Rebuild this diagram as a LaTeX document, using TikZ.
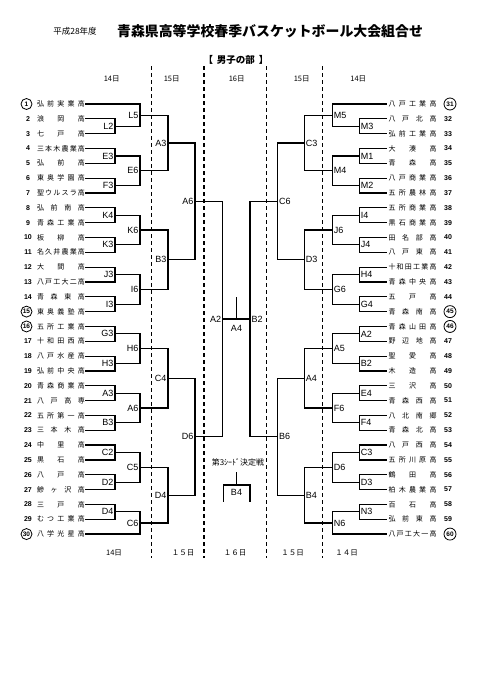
\documentclass[tikz,border=0pt]{standalone}
\usepackage{fontspec}
\setmainfont{Liberation Sans}
\newfontfamily\jp{Noto Sans CJK JP}
\usetikzlibrary{calc}
\def\spreadloop#1{\ifx#1\relax\else#1\hfill\expandafter\spreadloop\fi}
\newcommand\spreadname[1]{\makebox[48pt][s]{\expandafter\spreadloop#1\relax\unskip}}
\newcommand\bm[6]{%
  \path let \p1=(#3), \p2=(#4) in coordinate (#1) at ({#2pt},{0.5*\y1+0.5*\y2});
  \draw[br] (#3) -- (#3 -| #1) -- (#4 -| #1) -- (#4);
  \node[lab,anchor=#6] (#1lab) at (#1) {#5};}
\tikzset{
  br/.style={line width=1.2pt,line cap=rect},
  lab/.style={font=\fontsize{9}{9}\selectfont,inner sep=1.3pt},
  team/.style={font=\jp\fontsize{7}{7}\selectfont,inner sep=0pt},
  num/.style={font=\fontsize{7}{7}\selectfont\bfseries,inner sep=0pt},
  dayl/.style={font=\jp\fontsize{7.5}{7.5}\selectfont,inner sep=0pt},
  daysep/.style={line width=1.3pt,dash pattern=on 4pt off 3pt},
}
\begin{document}
\begin{tikzpicture}[x=1pt,y=-1pt]
\useasboundingbox (0,0) rectangle (481,680);
\fill[white] (0,0) rectangle (481,680);
% titles
\node[font=\jp\fontsize{8.5}{8.5}\selectfont,inner sep=0pt] (yr) at (75,31) {平成28年度};
\node[font=\jp\bfseries\fontsize{13.9}{14}\selectfont,inner sep=0pt] (title) at (270,31) {青森県高等学校春季バスケットボール大会組合せ};
\node[font=\jp\bfseries\fontsize{9.5}{9.5}\selectfont,inner sep=0pt] (div) at (236,60) {【\, 男子の部 \,】};
% day labels
\node[dayl] (d1) at (111.7,79.3) {14日};
\node[dayl] (d2) at (171.7,79.3) {15日};
\node[dayl] (d3) at (236.7,79.3) {16日};
\node[dayl] (d4) at (301.7,79.3) {15日};
\node[dayl] (d5) at (358.3,79.3) {14日};
\node[dayl] (e1) at (114,552.7) {14日};
\node[dayl] (e2) at (183,552.7) {１５日};
\node[dayl] (e3) at (235,552.7) {１６日};
\node[dayl] (e4) at (292.5,552.7) {１５日};
\node[dayl] (e5) at (346.7,552.7) {１４日};
% dashed day separators
\foreach \xx/\k in {151.7/a,204/b,266.7/c,322.3/d}{
  \coordinate (sep\k t) at (\xx,66);
  \coordinate (sep\k b) at (\xx,558);
  \draw[daysep] (sep\k t) -- (sep\k b);
}
% left teams
\foreach \n/\nm/\c in {1/弘前実業高/1,2/浪岡高/0,3/七戸高/0,4/三本木農業高/0,5/弘前高/0,6/東奥学園高/0,7/聖ウルスラ高/0,8/弘前南高/0,9/青森工業高/0,10/板柳高/0,11/名久井農業高/0,12/大間高/0,13/八戸工大二高/0,14/青森東高/0,15/東奥義塾高/1,16/五所工業高/1,17/十和田西高/0,18/八戸水産高/0,19/弘前中央高/0,20/青森商業高/0,21/八戸高専/0,22/五所第一高/0,23/三本木高/0,24/中里高/0,25/黒石高/0,26/八戸高/0,27/鰺ヶ沢高/0,28/三戸高/0,29/むつ工業高/0,30/八学光星高/1}{
  \pgfmathsetmacro\yy{104+(\n-1)*14.83}
  \coordinate (T\n) at (86,\yy);
  \node[team] (N\n) at (61,\yy) {\spreadname{\nm}};
  \ifnum\c=1
    \node[num,font=\fontsize{6.5}{6.5}\selectfont\bfseries,draw,circle,line width=0.8pt,minimum size=11pt] (C\n) at (26.5,\yy) {\n};
  \else
    \node[num] (C\n) at (28,\yy) {\n};
  \fi
}
% right teams
\foreach \n/\nm/\c in {31/八戸工業高/1,32/八戸北高/0,33/弘前工業高/0,34/大湊高/0,35/青森高/0,36/八戸商業高/0,37/五所農林高/0,38/五所商業高/0,39/黒石商業高/0,40/田名部高/0,41/八戸東高/0,42/十和田工業高/0,43/青森中央高/0,44/五戸高/0,45/青森南高/1,46/青森山田高/1,47/野辺地高/0,48/聖愛高/0,49/木造高/0,50/三沢高/0,51/青森西高/0,52/八北南郷/0,53/青森北高/0,54/八戸西高/0,55/五所川原高/0,56/鶴田高/0,57/柏木農業高/0,58/百石高/0,59/弘前東高/0,60/八戸工大一高/1}{
  \pgfmathsetmacro\yy{104+(\n-31)*14.83}
  \coordinate (T\n) at (386.7,\yy);
  \node[team] (N\n) at (412.5,\yy) {\spreadname{\nm}};
  \ifnum\c=1
    \node[num,font=\fontsize{6.5}{6.5}\selectfont\bfseries,draw,circle,line width=0.8pt,minimum size=12pt] (C\n) at (450,\yy) {\n};
  \else
    \node[num] (C\n) at (448,\yy) {\n};
  \fi
}
% left bracket
\def\ca{115}\def\cb{140}\def\cc{168}\def\cd{195}\def\ce{222.7}
\bm{lL2}{\ca}{T2}{T3}{L2}{east}
\bm{lL5}{\cb}{T1}{lL2}{L5}{east}
\bm{lE3}{\ca}{T4}{T5}{E3}{east}
\bm{lF3}{\ca}{T6}{T7}{F3}{east}
\bm{lE6}{\cb}{lE3}{lF3}{E6}{east}
\bm{lA3}{\cc}{lL5}{lE6}{A3}{east}
\bm{lK4}{\ca}{T8}{T9}{K4}{east}
\bm{lK3}{\ca}{T10}{T11}{K3}{east}
\bm{lK6}{\cb}{lK4}{lK3}{K6}{east}
\bm{lJ3}{\ca}{T12}{T13}{J3}{east}
\bm{lI3}{\ca}{T14}{T15}{I3}{east}
\bm{lI6}{\cb}{lJ3}{lI3}{I6}{east}
\bm{lB3}{\cc}{lK6}{lI6}{B3}{east}
\bm{lA6}{\cd}{lA3}{lB3}{A6}{east}
\bm{lG3}{\ca}{T16}{T17}{G3}{east}
\bm{lH3}{\ca}{T18}{T19}{H3}{east}
\bm{lH6}{\cb}{lG3}{lH3}{H6}{east}
\bm{lAthree}{\ca}{T20}{T21}{A3}{east}
\bm{lBthree}{\ca}{T22}{T23}{B3}{east}
\bm{lAsix}{\cb}{lAthree}{lBthree}{A6}{east}
\bm{lC4}{\cc}{lH6}{lAsix}{C4}{east}
\bm{lC2}{\ca}{T24}{T25}{C2}{east}
\bm{lD2}{\ca}{T26}{T27}{D2}{east}
\bm{lC5}{\cb}{lC2}{lD2}{C5}{east}
\bm{lDfour}{\ca}{T28}{T29}{D4}{east}
\bm{lC6}{\cb}{lDfour}{T30}{C6}{east}
\bm{lD4}{\cc}{lC5}{lC6}{D4}{east}
\bm{lD6}{\cd}{lC4}{lD4}{D6}{east}
\bm{lA2}{\ce}{lA6}{lD6}{A2}{east}
% right bracket
\def\ra{359.3}\def\rb{332.3}\def\rc{304.3}\def\rd{277.7}\def\re{250}
\bm{rM3}{\ra}{T32}{T33}{M3}{west}
\bm{rM5}{\rb}{T31}{rM3}{M5}{west}
\bm{rM1}{\ra}{T34}{T35}{M1}{west}
\bm{rM2}{\ra}{T36}{T37}{M2}{west}
\bm{rM4}{\rb}{rM1}{rM2}{M4}{west}
\bm{rC3}{\rc}{rM5}{rM4}{C3}{west}
\bm{rI4}{\ra}{T38}{T39}{I4}{west}
\bm{rJ4}{\ra}{T40}{T41}{J4}{west}
\bm{rJ6}{\rb}{rI4}{rJ4}{J6}{west}
\bm{rH4}{\ra}{T42}{T43}{H4}{west}
\bm{rG4}{\ra}{T44}{T45}{G4}{west}
\bm{rG6}{\rb}{rH4}{rG4}{G6}{west}
\bm{rD3}{\rc}{rJ6}{rG6}{D3}{west}
\bm{rC6}{\rd}{rC3}{rD3}{C6}{west}
\bm{rA2}{\ra}{T46}{T47}{A2}{west}
\bm{rBtwo}{\ra}{T48}{T49}{B2}{west}
\bm{rA5}{\rb}{rA2}{rBtwo}{A5}{west}
\bm{rE4}{\ra}{T50}{T51}{E4}{west}
\bm{rF4}{\ra}{T52}{T53}{F4}{west}
\bm{rF6}{\rb}{rE4}{rF4}{F6}{west}
\bm{rA4}{\rc}{rA5}{rF6}{A4}{west}
\bm{rCthree}{\ra}{T54}{T55}{C3}{west}
\bm{rDthree}{\ra}{T56}{T57}{D3}{west}
\bm{rD6}{\rb}{rCthree}{rDthree}{D6}{west}
\bm{rN3}{\ra}{T58}{T59}{N3}{west}
\bm{rN6}{\rb}{rN3}{T60}{N6}{west}
\bm{rB4}{\rc}{rD6}{rN6}{B4}{west}
\bm{rB6}{\rd}{rA4}{rB4}{B6}{west}
\bm{rB2}{\re}{rC6}{rB6}{B2}{west}
% final
\draw[br] (lA2) -- (rB2);
\coordinate (fintop) at (236.5,298);
\draw[br] (fintop) -- (fintop |- lA2);
\node[lab] (finlab) at (236.5,328) {A4};
% third seed playoff
\node[font=\jp\fontsize{8}{8}\selectfont,inner sep=0pt] (s3) at (238,462) {第3ｼｰﾄﾞ決定戦};
\coordinate (s3a) at (223.3,501);
\coordinate (s3b) at (250,501);
\coordinate (s3t) at (236.5,473);
\draw[br] (s3a) -- (223.3,485) -- (250,485) -- (s3b);
\draw[br] (s3t) -- (236.5,485);
\node[lab] (s3lab) at (236.5,492) {B4};
\end{tikzpicture}
\end{document}
